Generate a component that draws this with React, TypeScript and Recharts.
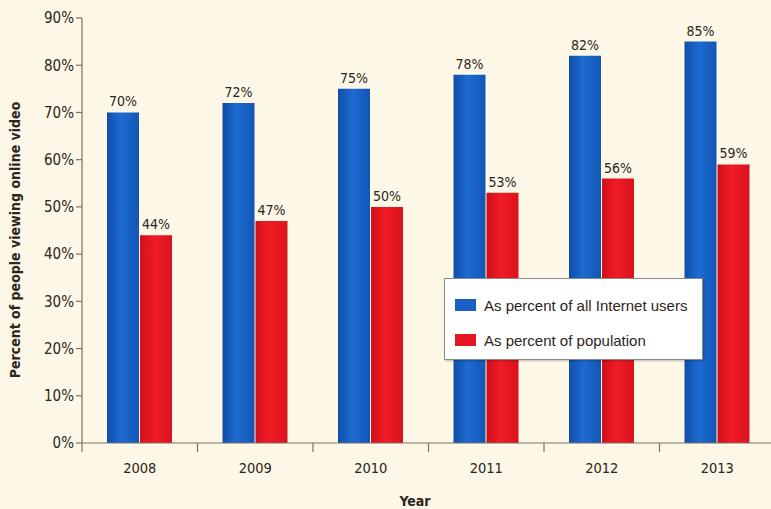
import {
  BarChart,
  Bar,
  XAxis,
  YAxis,
  Legend,
  LabelList,
  Label,
} from "recharts";

const years = ["2008", "2009", "2010", "2011", "2012", "2013"];
const internetUsers = [70, 72, 75, 78, 82, 85];
const population = [44, 47, 50, 53, 56, 59];
const yTicks = [0, 10, 20, 30, 40, 50, 60, 70, 80, 90];

const SERIES = [
  { key: "internet", name: "As percent of all Internet users", color: "#1a60c4", fill: "url(#gradBlue)" },
  { key: "population", name: "As percent of population", color: "#e5161f", fill: "url(#gradRed)" },
];

const NARROW = "'Liberation Sans Narrow', 'DejaVu Sans Condensed', 'Liberation Sans', sans-serif";
const TEXT = "#2b2620";
const AXIS = "#7d7262";

const data = years.map((year, i) => ({
  year,
  internet: internetUsers[i],
  population: population[i],
}));

const XTick = (props: any) => {
  const { x, y, payload } = props;
  const half = payload && payload.offset ? payload.offset : 57.75;
  return (
    <g>
      <line x1={x - half} y1={y - 8} x2={x - half} y2={y + 1} stroke={AXIS} strokeWidth={1.2} />
      <text x={x} y={y + 22} textAnchor="middle" fill={TEXT} fontSize={14.5} fontFamily={NARROW}>
        {payload.value}
      </text>
    </g>
  );
};

const LegendBox = () => (
  <div
    style={{
      width: 259,
      height: 82,
      boxSizing: "border-box",
      background: "#ffffff",
      border: "1px solid #8a8a8a",
      boxShadow: "1px 1px 2px rgba(0,0,0,0.25)",
      fontFamily: "'Liberation Sans', Arial, sans-serif",
      fontSize: 15,
      color: TEXT,
      paddingTop: 17,
      paddingLeft: 10,
    }}
  >
    {SERIES.map((s, i) => (
      <div key={s.key} style={{ display: "flex", alignItems: "center", height: 18, marginBottom: i === 0 ? 17 : 0 }}>
        <span style={{ display: "inline-block", width: 21, height: 12, background: s.color, marginRight: 8 }} />
        <span>{s.name}</span>
      </div>
    ))}
  </div>
);

export default function App() {
  return (
    <div
      style={{
        position: "absolute",
        left: 0,
        top: 0,
        width: 771,
        height: 509,
        overflow: "hidden",
        background: "#fcf7e6",
      }}
    >
      <BarChart
        width={775}
        height={509}
        data={data}
        margin={{ top: 18, right: 0, bottom: 0, left: 0 }}
        barSize={32}
        barGap={1}
      >
        <defs>
          <linearGradient id="gradBlue" x1="0" y1="0" x2="1" y2="0">
            <stop offset="0%" stopColor="#0f4ea8" />
            <stop offset="45%" stopColor="#1e6bd2" />
            <stop offset="100%" stopColor="#1256b4" />
          </linearGradient>
          <linearGradient id="gradRed" x1="0" y1="0" x2="1" y2="0">
            <stop offset="0%" stopColor="#d0101a" />
            <stop offset="45%" stopColor="#f01c26" />
            <stop offset="100%" stopColor="#d9121c" />
          </linearGradient>
        </defs>
        <XAxis
          dataKey="year"
          height={66}
          axisLine={{ stroke: AXIS, strokeWidth: 1.2 }}
          tickLine={false}
          tick={<XTick />}
          interval={0}
        >
          <Label
            content={() => (
              <text x={415} y={506} textAnchor="middle" fill={TEXT} fontSize={14} fontWeight="bold" fontFamily={NARROW}>
                Year
              </text>
            )}
          />
        </XAxis>
        <YAxis
          width={82}
          domain={[0, 90]}
          ticks={yTicks}
          interval={0}
          axisLine={{ stroke: AXIS, strokeWidth: 1.2 }}
          tickLine={{ stroke: AXIS, strokeWidth: 1.2 }}
          tickSize={6}
          tickFormatter={(v) => `${v}%`}
          tick={{ fill: TEXT, fontSize: 15, fontFamily: NARROW }}
        >
          <Label
            content={() => (
              <text
                x={20}
                y={240}
                transform="rotate(-90 20 240)"
                textAnchor="middle"
                fill={TEXT}
                fontSize={14}
                fontWeight="bold"
                fontFamily={NARROW}
              >
                Percent of  people viewing online video
              </text>
            )}
          />
        </YAxis>
        <Legend
          layout="horizontal"
          verticalAlign="middle"
          align="center"
          wrapperStyle={{ left: 444, top: 278, width: 259, height: 82 }}
          content={<LegendBox />}
        />
        {SERIES.map((s) => (
          <Bar key={s.key} dataKey={s.key} name={s.name} fill={s.fill} isAnimationActive={false}>
            <LabelList
              dataKey={s.key}
              position="top"
              offset={6}
              formatter={(v: any) => `${v}%`}
              fill={TEXT}
              fontSize={14}
              fontFamily={NARROW}
            />
          </Bar>
        ))}
      </BarChart>
    </div>
  );
}
